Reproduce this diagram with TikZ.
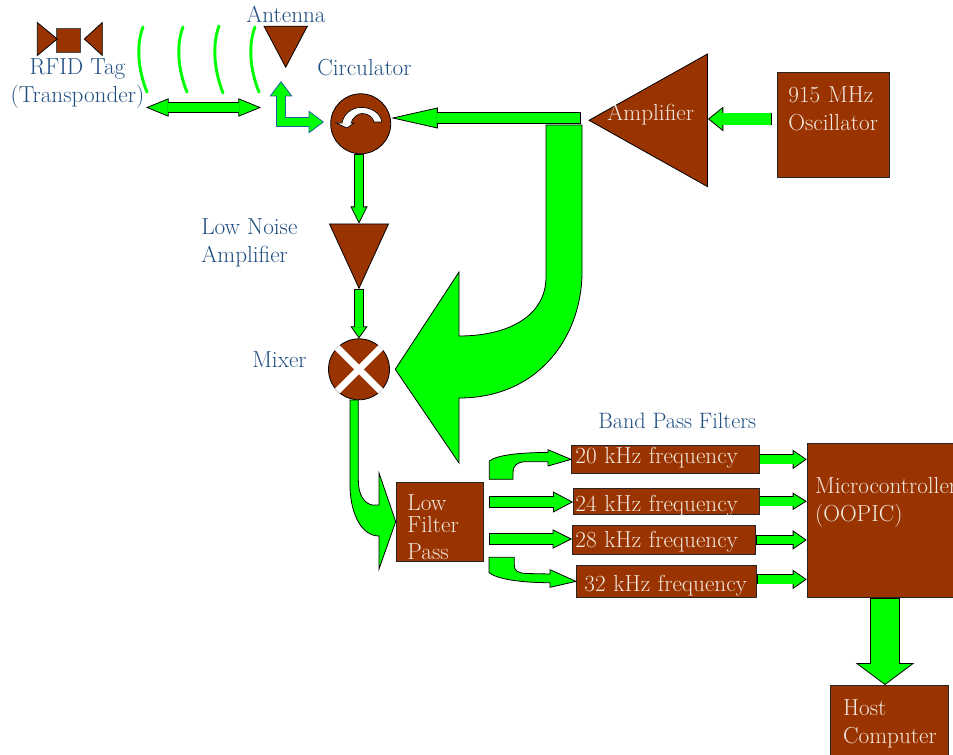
\documentclass[tikz,border=0pt]{standalone}
\usetikzlibrary{arrows.meta,shapes.geometric}

\definecolor{boxbrown}{HTML}{993300}
\definecolor{boxwhite}{HTML}{F2E8E0}
\definecolor{labelblue}{HTML}{1F4E82}
\definecolor{arrowgreen}{HTML}{00FF00}
\definecolor{elbowblue}{HTML}{1F5FA8}

\tikzset{
  x=.75pt,y=-.75pt,
  textfont/.style={font=\fontsize{17.4}{21}\selectfont},
  bluelabel/.style={textfont,text=labelblue,inner sep=0pt,anchor=base west,align=left},
  brownbox/.style n args={5}{draw=black!85,line width=.6pt,fill=boxbrown,textfont,text=boxwhite,
    anchor=north west,inner ysep=0pt,inner xsep=#3*.75pt,align=left,
    minimum width=#1*.75pt,minimum height=#2*.75pt,text width=(#1-2*#3)*.75pt,
    text height=#4*.75pt,text depth=#5*.75pt},
  tritag/.style n args={3}{isosceles triangle,isosceles triangle stretches,draw=black,line width=.6pt,
    fill=boxbrown,inner sep=0pt,anchor=apex,shape border rotate=#1,
    minimum width=#2*.75pt,minimum height=#3*.75pt},
  roundbox/.style={circle,draw=black,line width=.6pt,fill=boxbrown,inner sep=0pt,minimum size=#1*.75pt},
  % line width, head width, head length (in pt)
  blockarrow/.style n args={3}{draw=black,line width=#1+.6pt,
    -{Triangle[length=#3,width=#2,line width=.6pt,fill=arrowgreen]},
    postaction={draw=arrowgreen,line width=#1-.6pt,-,shorten >=#3-.8pt,shorten <=.6pt}},
  twowayarrow/.style n args={3}{draw=black,line width=#1+.6pt,
    {Triangle[length=#3,width=#2,line width=.6pt,fill=arrowgreen]}-{Triangle[length=#3,width=#2,line width=.6pt,fill=arrowgreen]},
    postaction={draw=arrowgreen,line width=#1-.6pt,-,shorten >=#3-.8pt,shorten <=#3-.8pt}},
  greenblock/.style={draw=black,line width=.6pt,fill=arrowgreen,line join=miter},
  waveline/.style={draw=arrowgreen,line width=2.2pt,line cap=round}
}

\begin{document}
\begin{tikzpicture}
  \useasboundingbox (0,0) rectangle (953,755);

  % tag
  \node[draw=black!70,line width=.6pt,fill=boxbrown,inner sep=0pt,minimum width=18.5pt,minimum height=18pt] (tagbox) at (68.3,40.3) {};
  \node[tritag={0}{33}{20}] (tagl) at (58.3,39) {};
  \node[tritag={180}{33}{18}] (tagr) at (83.3,39) {};
  \node[bluelabel,anchor=base,align=center] (taglabel) at (77.5,103) {RFID Tag\\(Transponder)};

  % waves
  \foreach \dx/\dy in {0/0,40/0,76/1,112/0}
    \draw[waveline] (143+\dx,27-\dy) .. controls (136+\dx,45) and (138+\dx,70) .. (147+\dx,92+\dy);

  % front end
  \node[tritag={270}{43.3}{41}] (ant) at (285.7,68.3) {};
  \node[bluelabel] (antlabel) at (246,22.7) {Antenna};
  \node[roundbox=60] (circ) at (360.7,123.8) {};
  \node[bluelabel] (circlabel) at (317,76) {Circulator};
  \draw[draw=black,line width=.5pt,fill=white] (382,122) .. controls (380,112) and (370,107) .. (360,107.5)
    .. controls (352,108) and (344,113) .. (342,123) -- (336,123) -- (347,128) -- (354,123) -- (351,123)
    .. controls (353,117) and (358,113.5) .. (362,113.5) .. controls (368,113.5) and (373,117) .. (374,122) -- cycle;
  \node[tritag={270}{59}{64.3}] (lna) at (359,289.3) {};
  \node[bluelabel] (lnalabel) at (201,263) {Low Noise\\Amplifier};
  \node[roundbox=61] (mixer) at (359,369.3) {};
  \draw[white,line width=5pt] (mixer.north west) -- (mixer.south east);
  \draw[white,line width=5pt] (mixer.north east) -- (mixer.south west);
  \node[bluelabel] (mixerlabel) at (252,368) {Mixer};

  % source
  \node[tritag={180}{132.7}{118.5},label={[textfont,text=boxwhite,inner sep=0pt,xshift=-13.5pt,yshift=4.2pt]center:Amplifier}] (amp) at (588,120.3) {};
  \node[brownbox={112}{105.6}{11.3}{0}{45}] (osc) at (776.7,71.7) {915 MHz\\Oscillator};

  % back end
  \node[brownbox={87}{79}{11.3}{0}{22.4}] (lpf) at (395.7,481.7) {Low\\[-4.7pt]Filter\\[-.3pt]Pass};
  \node[bluelabel,font=\fontsize{16.7}{21}\selectfont] (bpflabel) at (598,428) {Band Pass Filters};
  \node[brownbox={187.7}{28}{4}{8}{0}] (f20) at (571,445) {20 kHz frequency};
  \node[brownbox={185.7}{26.3}{2}{20.3}{0}] (f24) at (573,487.7) {24 kHz frequency};
  \node[brownbox={183}{29}{3}{14.4}{0}] (f28) at (572,525) {28 kHz frequency};
  \node[brownbox={180}{32}{8}{20}{0}] (f32) at (576,565) {32 kHz frequency};
  \node[brownbox={170}{154.3}{8}{0}{54.3}] (mcu) at (806.7,442.7) {Microcontroller\\(OOPIC)};
  \node[brownbox={117.7}{90}{12.7}{0}{30}] (host) at (830,685) {Host\\Computer};

  % free ends
  \coordinate (tagend) at (146,107.5);
  \coordinate (antend) at (261,107.5);
  \coordinate (antin) at (281,81);
  \coordinate (circin) at (324,122);
  \coordinate (split) at (581,118);
  \coordinate (oscout) at (772,119);
  \coordinate (lpf24) at (489,502);
  \coordinate (lpf28) at (489,539);
  \coordinate (hostin) at (885,685);

  % connectors
  \draw[twowayarrow={7.2pt}{13.7pt}{17pt}] (tagend) -- (antend);
  \draw[twowayarrow={6.6pt}{17pt}{11.5pt},draw=elbowblue] (antin) |- (circin);
  \draw[blockarrow={8pt}{15.6pt}{35pt}] (split) -- (split -| circ.east);
  \draw[blockarrow={9pt}{18.4pt}{11.5pt}] (oscout) -- (oscout -| amp.lower side);
  \draw[blockarrow={6.7pt}{12.8pt}{12.8pt}] (lna.lower side |- circ.south) -- (lna.lower side);
  \draw[blockarrow={6.7pt}{12.8pt}{9pt}] (lna.apex) -- (mixer.north);
  \draw[blockarrow={8.7pt}{15.8pt}{15pt}] (lpf24) -- (lpf24 -| f24.west);
  \draw[blockarrow={7.8pt}{14.4pt}{14.5pt}] (lpf28) -- (lpf28 -| f28.west);
  \draw[blockarrow={7pt}{14.4pt}{10.5pt}] (f20.east) -- (f20.east -| mcu.west);
  \draw[blockarrow={7pt}{13pt}{10.5pt}] (f24.east) -- (f24.east -| mcu.west);
  \draw[blockarrow={7pt}{14.4pt}{10.5pt}] (f28.east) -- (f28.east -| mcu.west);
  \draw[blockarrow={7pt}{14.4pt}{10.5pt}] ([yshift=1.5pt]f32.east) -- ([yshift=1.5pt]f32.east -| mcu.west);
  \draw[blockarrow={22pt}{44pt}{16.5pt}] (mcu.south -| hostin) -- (hostin);

  % the tapered ones
  \draw[greenblock] (546,125) -- (582,125) -- (582,272) .. controls (582,335) and (540,398) .. (459,398)
    -- (459,463) -- ([xshift=4pt]mixer.east) -- (459,272) -- (459,336)
    .. controls (510,336) and (546,315) .. (546,277) -- cycle;
  \draw[greenblock] (350,400) -- (350,488) .. controls (351,515) and (362,536) .. (379,536) -- (379,569)
    -- (lpf.west) -- (379,473) -- (379,505) -- (372,505) .. controls (364,503) and (358.3,495) .. (358.3,480)
    -- (358.3,400) -- cycle;
  \draw[greenblock] (489.3,479.3) -- (489.3,461) .. controls (497,455) and (520,452.5) .. (548,452.5)
    -- (548,449.7) -- (f20.west) -- (548,466) -- (548,461.7) -- (525,461.7) .. controls (517,462) and (513,466) .. (513,472)
    -- (513,479.3) -- cycle;
  \draw[greenblock] (489,557.3) -- (489,572.7) .. controls (497,579) and (520,582.7) .. (550,582.7)
    -- (550,587.3) -- (f32.west) -- (550,569.7) -- (550,574) -- (526,573.5) .. controls (518,573) and (514.3,571) .. (514.3,565)
    -- (514.3,557.3) -- cycle;
\end{tikzpicture}
\end{document}
